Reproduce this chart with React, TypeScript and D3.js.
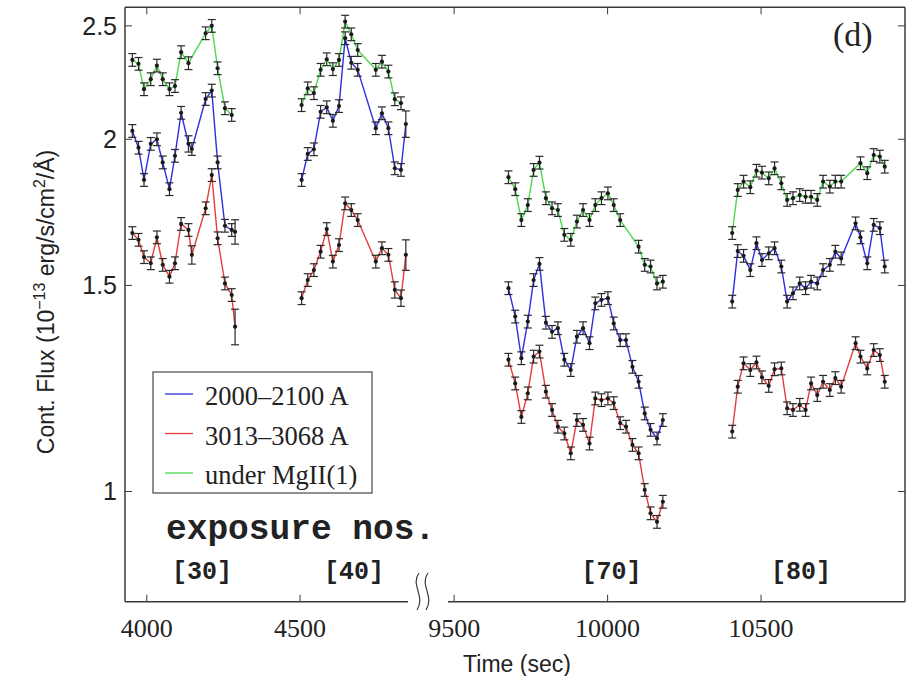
import React from "react";
import * as d3 from "d3";

// Sample times (s) shared by the 2000-2100 A and 3013-3068 A continuum bands
const bandTimes = [
  3953, 3973, 3991, 4013, 4033, 4052, 4074, 4092, 4112, 4136, 4147, 4192, 4212, 4231, 4255, 4277, 4288,
  4505, 4525, 4545, 4567, 4587, 4607, 4627, 4647, 4667, 4688, 4747, 4767, 4788, 4809, 4829, 4845,
  9677, 9699, 9719, 9740, 9759, 9778, 9799, 9819, 9838, 9859, 9880, 9900, 9920, 9941, 9960, 9980,
  10001, 10020, 10041, 10060, 10081, 10101, 10121, 10140, 10161, 10180,
  10406, 10424, 10443, 10465, 10485, 10503, 10525, 10544, 10566, 10585, 10604, 10626, 10645, 10663,
  10683, 10702, 10724, 10742, 10761, 10808, 10824, 10846, 10867, 10887, 10903,
];

const blueFlux = [
  2.033, 1.967, 1.846, 1.982, 2.0, 1.911, 1.813, 1.936, 2.107, 1.982, 1.962, 2.165, 2.201, 1.911, 1.687, 1.673, 1.667,
  1.846, 1.943, 1.961, 2.111, 2.13, 2.074, 2.135, 2.44, 2.325, 2.293, 2.044, 2.105, 2.044, 1.889, 1.883, 2.061,
  1.492, 1.411, 1.3, 1.397, 1.516, 1.565, 1.394, 1.369, 1.379, 1.296, 1.27, 1.356, 1.379, 1.339, 1.448, 1.458,
  1.463, 1.392, 1.347, 1.347, 1.278, 1.241, 1.166, 1.129, 1.11, 1.151,
  1.453, 1.605, 1.59, 1.546, 1.63, 1.577, 1.598, 1.614, 1.557, 1.453, 1.477, 1.506, 1.492, 1.511,
  1.506, 1.546, 1.562, 1.603, 1.582, 1.695, 1.649, 1.567, 1.69, 1.679, 1.557,
];

const redFlux = [
  1.663, 1.641, 1.586, 1.567, 1.649, 1.562, 1.526, 1.567, 1.693, 1.673, 1.593, 1.746, 1.864, 1.646, 1.506, 1.472, 1.383,
  1.463, 1.516, 1.546, 1.603, 1.676, 1.572, 1.624, 1.763, 1.74, 1.706, 1.572, 1.614, 1.593, 1.487, 1.463, 1.593,
  1.296, 1.237, 1.158, 1.213, 1.304, 1.317, 1.217, 1.174, 1.136, 1.121, 1.078, 1.151, 1.14, 1.099, 1.201, 1.197,
  1.201, 1.19, 1.144, 1.136, 1.096, 1.078, 1.003, 0.958, 0.942, 0.98,
  1.125, 1.229, 1.287, 1.27, 1.289, 1.252, 1.231, 1.272, 1.274, 1.178, 1.174, 1.186, 1.174, 1.237,
  1.209, 1.241, 1.221, 1.25, 1.229, 1.339, 1.304, 1.274, 1.321, 1.308, 1.241,
];

// Continuum under Mg II (1)
const greenTimes = [
  3953, 3973, 3991, 4013, 4033, 4052, 4074, 4092, 4112, 4136, 4192, 4212, 4231, 4255, 4277,
  4505, 4525, 4545, 4567, 4587, 4607, 4627, 4647, 4667, 4688, 4747, 4767, 4788, 4809, 4829,
  9677, 9699, 9719, 9740, 9759, 9778, 9799, 9819, 9838, 9859, 9880, 9900, 9920, 9941, 9960, 9980,
  10001, 10020, 10041, 10101, 10121, 10140, 10161, 10180,
  10406, 10424, 10443, 10465, 10485, 10503, 10525, 10544, 10566, 10585, 10604, 10626, 10645, 10663,
  10683, 10702, 10724, 10742, 10761, 10824, 10846, 10867, 10887, 10903,
];

const greenFlux = [
  2.338, 2.32, 2.207, 2.251, 2.312, 2.251, 2.207, 2.221, 2.374, 2.323, 2.464, 2.5, 2.3, 2.126, 2.098,
  2.139, 2.211, 2.19, 2.293, 2.341, 2.296, 2.338, 2.521, 2.459, 2.384, 2.293, 2.33, 2.285, 2.164, 2.147,
  1.856, 1.813, 1.706, 1.757, 1.883, 1.91, 1.781, 1.746, 1.74, 1.657, 1.641, 1.701, 1.74, 1.706, 1.757, 1.781,
  1.798, 1.757, 1.706, 1.619, 1.562, 1.557, 1.506, 1.511,
  1.663, 1.81, 1.84, 1.82, 1.88, 1.873, 1.852, 1.889, 1.834, 1.775, 1.781, 1.792, 1.786, 1.786,
  1.775, 1.84, 1.822, 1.84, 1.84, 1.908, 1.871, 1.939, 1.933, 1.895,
];

// Typical relative 1-sigma error, with the noisier samples listed separately
const typicalRelErr = 0.0125;
const noisySamples: { series: string; t: number; rel: number }[] = [
  { series: "blue", t: 4288, rel: 0.024 },
  { series: "red", t: 4288, rel: 0.035 },
  { series: "blue", t: 4845, rel: 0.026 },
  { series: "red", t: 4845, rel: 0.03 },
  { series: "red", t: 4809, rel: 0.016 },
  { series: "red", t: 4829, rel: 0.016 },
  { series: "blue", t: 4136, rel: 0.016 },
  { series: "red", t: 4147, rel: 0.018 },
];

const seriesNames = ["2000\u20132100 A", "3013\u20133068 A", "under MgII(1)"];
const seriesKeys = ["blue", "red", "green"];
const seriesColors = ["#2e2ee0", "#e43c3c", "#4cd84c"];

const yTicks = [1, 1.5, 2, 2.5];
const leftTicks = [4000, 4500];
const rightTicks = [9500, 10000, 10500];

const exposureLabels = [
  { label: "[30]", t: 4180 },
  { label: "[40]", t: 4676 },
  { label: "[70]", t: 10013 },
  { label: "[80]", t: 10630 },
];

type Pt = { t: number; v: number; e: number };

const W = 906;
const H = 676;
const plotLeft = 125;
const plotRight = 905;
const plotTop = 7.3;
const plotBottom = 601.7;
const breakLeftEnd = 408;
const breakRightStart = 448;

const xLeft = d3.scaleLinear().domain([3929, 4852]).range([plotLeft, breakLeftEnd]);
const xRight = d3.scaleLinear().domain([9480, 10969]).range([breakRightStart, plotRight]);
const x = (t: number) => (t < 7000 ? xLeft(t) : xRight(t));
const y = d3.scaleLog().domain([0.805, 2.593]).range([plotBottom, plotTop]);

function buildPoints(key: string, times: number[], flux: number[]): Pt[] {
  return times.map((t, i) => {
    const noisy = noisySamples.find((n) => n.series === key && n.t === t);
    const rel = noisy ? noisy.rel : typicalRelErr;
    return { t, v: flux[i], e: flux[i] * rel };
  });
}

function splitRuns(pts: Pt[]): Pt[][] {
  const runs: Pt[][] = [];
  pts.forEach((p, i) => {
    if (i === 0 || p.t - pts[i - 1].t > 150) runs.push([p]);
    else runs[runs.length - 1].push(p);
  });
  return runs;
}

const seriesData: Pt[][] = [
  buildPoints(seriesKeys[0], bandTimes, blueFlux),
  buildPoints(seriesKeys[1], bandTimes, redFlux),
  buildPoints(seriesKeys[2], greenTimes, greenFlux),
];

const lineGen = d3
  .line<Pt>()
  .x((d) => x(d.t))
  .y((d) => y(d.v));

const axisColor = "#3a3a3a";
const sans = "'Liberation Sans', Arial, Helvetica, sans-serif";
const serif = "'Liberation Serif', 'Times New Roman', Times, serif";
const mono = "'Liberation Mono', 'Courier New', Courier, monospace";

function squiggle(x0: number) {
  const top = 573;
  const bot = 610;
  return `M${x0 + 2},${top} C${x0 - 7},${top + 12} ${x0 + 9},${bot - 14} ${x0},${bot}`;
}

export default function App() {
  return (
    <div style={{ position: "absolute", left: 0, top: 0, width: W, height: H, background: "#fff" }}>
      <svg width={W} height={H} viewBox={`0 0 ${W} ${H}`} style={{ display: "block" }}>
        <rect x={0} y={0} width={W} height={H} fill="#fff" />

        {/* frame: left, top and right sides */}
        <line x1={plotLeft} y1={plotTop} x2={plotLeft} y2={plotBottom} stroke={axisColor} strokeWidth={1.5} />
        <line x1={plotLeft} y1={plotTop} x2={plotRight} y2={plotTop} stroke={axisColor} strokeWidth={1.5} />
        <line x1={plotRight} y1={plotTop} x2={plotRight} y2={plotBottom} stroke={axisColor} strokeWidth={1.5} />

        {/* broken time axis */}
        <line x1={plotLeft} y1={plotBottom} x2={breakLeftEnd} y2={plotBottom} stroke={axisColor} strokeWidth={1.5} />
        <line x1={breakRightStart} y1={plotBottom} x2={plotRight} y2={plotBottom} stroke={axisColor} strokeWidth={1.5} />
        <path d={squiggle(417)} fill="none" stroke={axisColor} strokeWidth={1.2} />
        <path d={squiggle(426)} fill="none" stroke={axisColor} strokeWidth={1.2} />

        {/* time ticks */}
        {[...leftTicks.map((t) => xLeft(t)), ...rightTicks.map((t) => xRight(t))].map((px, i) => (
          <g key={`xt${i}`}>
            <line x1={px} y1={plotBottom} x2={px} y2={plotBottom - 7} stroke={axisColor} strokeWidth={1} />
            <line x1={px} y1={plotTop} x2={px} y2={plotTop + 7} stroke={axisColor} strokeWidth={1} />
          </g>
        ))}
        {[...leftTicks.map((t) => ({ t, px: xLeft(t) })), ...rightTicks.map((t) => ({ t, px: xRight(t) }))].map(
          ({ t, px }) => (
            <text key={`xl${t}`} x={px} y={637} textAnchor="middle" fontFamily={serif} fontSize={26} fill="#222">
              {t}
            </text>
          )
        )}

        {/* flux ticks */}
        {yTicks.map((v) => (
          <g key={`yt${v}`}>
            <line x1={plotLeft} y1={y(v)} x2={plotLeft + 7} y2={y(v)} stroke={axisColor} strokeWidth={1} />
            <line x1={plotRight} y1={y(v)} x2={plotRight - 7} y2={y(v)} stroke={axisColor} strokeWidth={1} />
            <text x={117} y={y(v) + 9} textAnchor="end" fontFamily={sans} fontSize={25} fill="#222">
              {v}
            </text>
          </g>
        ))}

        {/* axis titles */}
        <text x={517} y={672} textAnchor="middle" fontFamily={sans} fontSize={23} fill="#222">
          Time (sec)
        </text>
        <text
          transform="translate(54,302) rotate(-90)"
          textAnchor="middle"
          fontFamily={sans}
          fontSize={23}
          fill="#222"
        >
          Cont. Flux (10
          <tspan dy={-9} fontSize={16}>
            {"\u221213"}
          </tspan>
          <tspan dy={9}> erg/s/cm</tspan>
          <tspan dy={-9} fontSize={16}>
            2
          </tspan>
          <tspan dy={9}>/Å)</tspan>
        </text>

        {/* light curves */}
        {seriesData.map((pts, si) =>
          splitRuns(pts).map((run, ri) => (
            <path
              key={`ln${si}-${ri}`}
              d={lineGen(run) || ""}
              fill="none"
              stroke={seriesColors[si]}
              strokeWidth={1.4}
            />
          ))
        )}
        {seriesData.map((pts, si) =>
          pts.map((p, pi) => {
            const px = x(p.t);
            const y0 = y(p.v - p.e);
            const y1 = y(p.v + p.e);
            return (
              <g key={`eb${si}-${pi}`} stroke="#2a2a2a" strokeWidth={1.2}>
                <line x1={px} y1={y0} x2={px} y2={y1} />
                <line x1={px - 4} y1={y0} x2={px + 4} y2={y0} />
                <line x1={px - 4} y1={y1} x2={px + 4} y2={y1} />
              </g>
            );
          })
        )}
        {seriesData.map((pts, si) =>
          pts.map((p, pi) => <circle key={`pt${si}-${pi}`} cx={x(p.t)} cy={y(p.v)} r={2.1} fill="#1a1a1a" />)
        )}

        {/* legend */}
        <rect x={153} y={372} width={219} height={121} fill="#fff" stroke="#555" strokeWidth={1.3} />
        {seriesNames.map((name, i) => (
          <g key={`lg${i}`}>
            <line x1={165} x2={193} y1={394 + i * 39.5} y2={394 + i * 39.5} stroke={seriesColors[i]} strokeWidth={1.3} />
            <text x={205} y={405 + i * 39.5} fontFamily={serif} fontSize={26.5} fill="#222">
              {name}
            </text>
          </g>
        ))}

        {/* exposure annotations */}
        <text x={166} y={539} fontFamily={mono} fontWeight="bold" fontSize={34.5} fill="#222">
          exposure nos.
        </text>
        {exposureLabels.map((d) => (
          <text
            key={d.label}
            x={x(d.t)}
            y={579}
            textAnchor="middle"
            fontFamily={mono}
            fontWeight="bold"
            fontSize={25}
            fill="#222"
          >
            {d.label}
          </text>
        ))}

        <text x={833} y={46} fontFamily={serif} fontSize={34} fill="#222">
          (d)
        </text>
      </svg>
    </div>
  );
}
